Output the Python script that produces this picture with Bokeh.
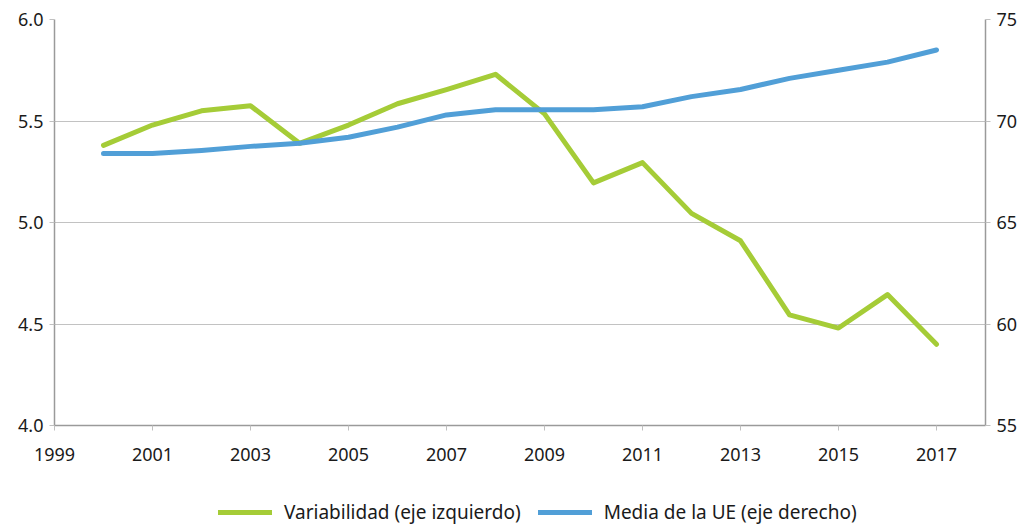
from bokeh.plotting import figure
from bokeh.layouts import column
from bokeh.models import Range1d, LinearAxis, Legend, LegendItem, FixedTicker, CustomJSTickFormatter
from bokeh.embed import file_html
from bokeh.resources import INLINE

years = list(range(2000, 2018))
variabilidad = [5.38, 5.48, 5.55, 5.575, 5.39, 5.48, 5.585, 5.655, 5.73, 5.535,
                5.195, 5.295, 5.045, 4.91, 4.545, 4.48, 4.645, 4.40]
media_ue = [68.4, 68.4, 68.55, 68.75, 68.9, 69.2, 69.7, 70.3, 70.55, 70.55,
            70.55, 70.7, 71.2, 71.55, 72.1, 72.5, 72.9, 73.5]

x_ticks = [1999, 2001, 2003, 2005, 2007, 2009, 2011, 2013, 2015, 2017]
left_ticks = [4.0, 4.5, 5.0, 5.5, 6.0]
right_ticks = [55, 60, 65, 70, 75]
labels = ["Variabilidad (eje izquierdo)", "Media de la UE (eje derecho)"]

GREEN = "#a5cc37"
BLUE = "#519fd7"
FONT = "Noto Sans"
FS = "18px"
TXT = "#1a1a1a"

p = figure(width=1027, height=499, output_backend="svg", toolbar_location=None,
           x_range=Range1d(1999, 2018), y_range=Range1d(4.0, 6.0),
           min_border_left=54, min_border_right=42, min_border_top=19,
           min_border_bottom=74)
p.extra_y_ranges = {"right": Range1d(55, 75)}
p.outline_line_color = None
p.background_fill_color = "white"
p.border_fill_color = "white"

p.xgrid.grid_line_color = None
p.ygrid.grid_line_color = "#c2c2c2"
p.ygrid.grid_line_width = 1
p.ygrid.ticker = FixedTicker(ticks=left_ticks)

def style_axis(ax):
    ax.axis_line_color = "#9a9a9a"
    ax.axis_line_width = 1.5
    ax.major_tick_line_color = "#c0c0c0"
    ax.major_tick_in = 0
    ax.major_tick_out = 5
    ax.minor_tick_line_color = None
    ax.major_label_text_font = FONT
    ax.major_label_text_font_size = FS
    ax.major_label_text_color = TXT
    ax.major_label_standoff = 6

p.xaxis.ticker = FixedTicker(ticks=x_ticks)
p.yaxis.ticker = FixedTicker(ticks=left_ticks)
p.yaxis.formatter = CustomJSTickFormatter(code="return tick.toFixed(1);")
style_axis(p.xaxis[0])
style_axis(p.yaxis[0])
p.xaxis.major_label_standoff = 17

right_axis = LinearAxis(y_range_name="right", ticker=FixedTicker(ticks=right_ticks))
style_axis(right_axis)
p.add_layout(right_axis, "right")

p.line(years, variabilidad, line_color=GREEN, line_width=5, line_join="round", line_cap="round")
p.line(years, media_ue, line_color=BLUE, line_width=5, line_join="round", line_cap="round",
       y_range_name="right")

# legend strip below the chart (its lines lie outside its visible range)
lg = figure(width=1027, height=26, output_backend="svg", toolbar_location=None,
            x_range=Range1d(0, 1), y_range=Range1d(0, 1),
            min_border=0, x_axis_type=None, y_axis_type=None)
lg.outline_line_color = None
lg.xgrid.grid_line_color = None
lg.ygrid.grid_line_color = None
lg_g = lg.line(years, variabilidad, line_color=GREEN, line_width=5, line_cap="round")
lg_b = lg.line(years, media_ue, line_color=BLUE, line_width=5, line_cap="round")
legend = Legend(items=[LegendItem(label=labels[0], renderers=[lg_g]),
                       LegendItem(label=labels[1], renderers=[lg_b])],
                orientation="horizontal", location=(164, 0),
                label_text_font=FONT, label_text_font_size="19px", label_text_color=TXT,
                glyph_width=54, glyph_height=20, spacing=17, label_standoff=12,
                border_line_color=None, background_fill_alpha=0, margin=0, padding=0)
lg.add_layout(legend, "center")

layout = column(p, lg, spacing=0)
open("out.html", "w").write(file_html(layout, INLINE))
